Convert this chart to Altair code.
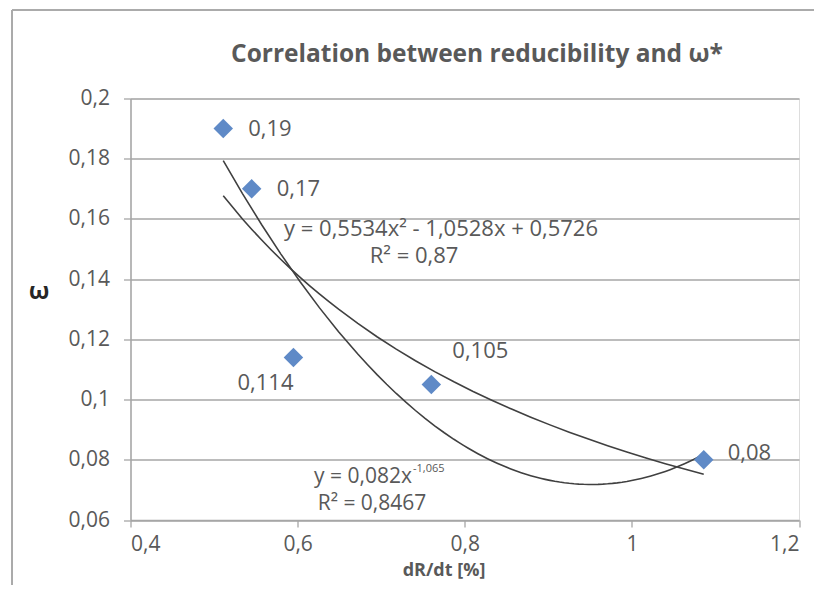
import altair as alt
import pandas as pd

# ---- data ----
x_vals = [0.511, 0.545, 0.595, 0.760, 1.086]
y_vals = [0.190, 0.170, 0.114, 0.105, 0.080]
x_ticks = [0.4, 0.6, 0.8, 1.0, 1.2]
y_ticks = [0.06, 0.08, 0.10, 0.12, 0.14, 0.16, 0.18, 0.20]

title_text = "Correlation between reducibility and  ω*"
x_title = "dR/dt [%]"
y_title = "ω"
poly_eq = "y = 0,5534x² - 1,0528x + 0,5726"
poly_r2 = "R² = 0,87"
pow_eq = "y = 0,082x"
pow_exp = "-1,065"
pow_r2 = "R² = 0,8467"

# annotation anchors (data coordinates)
ann_x = [0.7716, 0.7393]
ann_y = [0.1567, 0.1477]
ann_text = [poly_eq, poly_r2]

df = pd.DataFrame({"x": x_vals, "y": y_vals, "i": list(range(len(x_vals)))})
ann = pd.DataFrame({"x": ann_x, "y": ann_y, "t": ann_text})
pw_main = pd.DataFrame({"x": [0.7369], "y": [0.0742], "t": [pow_eq]})
pw_sup = pd.DataFrame({"x": [0.7381], "y": [0.0769], "t": [pow_exp]})
pw_r2 = pd.DataFrame({"x": [0.689], "y": [0.0653], "t": [pow_r2]})

FONT = "Open Sans"
GRAY = "#595959"
GRID = "#A6A6A6"
TICK = 21
LBL = 22

fmt = "replace(format(datum.value, '~g'), '.', ',')"

xs = alt.Scale(domain=[0.4, 1.2], nice=False, zero=False)
ys = alt.Scale(domain=[0.06, 0.2], nice=False, zero=False)

xaxis = alt.Axis(values=x_ticks, labelExpr=fmt, grid=False, tickSize=7,
                 tickColor=GRID, tickWidth=1.3, domainColor=GRID, domainWidth=1.5,
                 labelFont=FONT, labelFontSize=TICK, labelColor=GRAY, labelPadding=6,
                 title=x_title, titleFont=FONT, titleFontSize=18, titleFontWeight="bold",
                 titleColor=GRAY, titleX=313, titleY=55, titleBaseline="alphabetic",
                 titleAlign="center", titleAnchor="start")
yaxis = alt.Axis(values=y_ticks, labelExpr=fmt, grid=True, gridColor=GRID, gridWidth=1.3,
                 tickSize=7, tickColor=GRID, tickWidth=1.3, domainColor=GRID, domainWidth=1.5,
                 labelFont=FONT, labelFontSize=TICK, labelColor=GRAY, labelPadding=14,
                 title=y_title, titleFont=FONT, titleFontSize=24, titleFontWeight="bold",
                 titleColor="#262626", titleAngle=0, titleX=-92, titleY=193,
                 titleBaseline="middle", titleAlign="center", titleAnchor="start")

X = alt.X("x:Q", scale=xs, axis=xaxis)
Y = alt.Y("y:Q", scale=ys, axis=yaxis)

base = alt.Chart(df)

poly = base.transform_regression("x", "y", method="poly", order=2).mark_line(
    color="#404040", strokeWidth=1.6).encode(x=X, y=Y)
powl = base.transform_regression("x", "y", method="pow").mark_line(
    color="#404040", strokeWidth=1.6).encode(x=X, y=Y)

pts = base.mark_point(shape="diamond", filled=True, size=380, color="#5F8AC7",
                      opacity=1).encode(x=X, y=Y)

lab = base.transform_calculate(lbl="replace(format(datum.y, '~g'), '.', ',')")
txt_kw = dict(font=FONT, fontSize=LBL, color=GRAY, baseline="middle")
lab_r = lab.transform_filter("datum.i <= 1").mark_text(align="left", dx=25, **txt_kw).encode(
    x=X, y=Y, text="lbl:N")
lab_r2 = lab.transform_filter("datum.i == 4").mark_text(align="left", dx=24, dy=-7, **txt_kw).encode(
    x=X, y=Y, text="lbl:N")
lab_bl = lab.transform_filter("datum.i == 2").mark_text(align="center", dx=-28, dy=26, **txt_kw).encode(
    x=X, y=Y, text="lbl:N")
lab_ar = lab.transform_filter("datum.i == 3").mark_text(align="center", dx=49, dy=-34, **txt_kw).encode(
    x=X, y=Y, text="lbl:N")

pw_kw = dict(font=FONT, fontSize=21, color=GRAY, baseline="middle")
eqs = alt.Chart(ann).mark_text(align="center", **txt_kw).encode(x=X, y=Y, text="t:N")
eq_main = alt.Chart(pw_main).mark_text(align="right", **pw_kw).encode(x=X, y=Y, text="t:N")
eq_sup = alt.Chart(pw_sup).mark_text(align="left", font=FONT, fontSize=11, color=GRAY,
                                     baseline="middle").encode(x=X, y=Y, text="t:N")
eq_r2 = alt.Chart(pw_r2).mark_text(align="center", **pw_kw).encode(x=X, y=Y, text="t:N")

title_mark = alt.Chart(df).transform_filter("datum.i == 0").mark_text(
    text=title_text, font=FONT, fontSize=24.5, fontWeight="bold", color=GRAY,
    align="center", baseline="middle").encode(x=alt.value(346.5), y=alt.value(-43.5))

border_l = alt.Chart(df).mark_rule(color="#ABABAB", strokeWidth=1.3).encode(
    x=alt.value(-118.5), y=alt.value(-88.5), y2=alt.value(490))
border_t = alt.Chart(df).mark_rule(color="#ABABAB", strokeWidth=1.3).encode(
    x=alt.value(-118.5), x2=alt.value(700), y=alt.value(-88.5))

chart = alt.layer(
    border_l, border_t, poly, powl, pts, lab_r, lab_r2, lab_bl, lab_ar, eqs,
    eq_main, eq_sup, eq_r2, title_mark
).properties(
    width=668.5, height=421.5,
    autosize=alt.AutoSizeParams(type="none"),
    padding={"left": 122.5, "top": 90.5, "right": 15, "bottom": 65},
).configure_view(stroke=None).configure(background="white")

chart.save("out.html", embed_options={"renderer": "svg", "actions": False})
